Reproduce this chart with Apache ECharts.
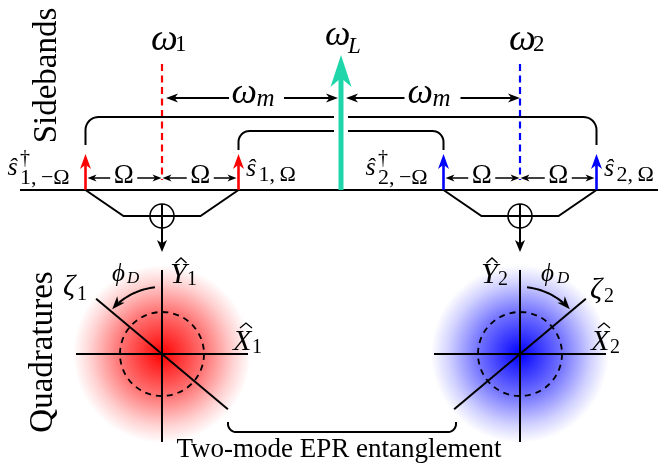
<!DOCTYPE html>
<html><head><meta charset="utf-8">
<script src="https://cdn.jsdelivr.net/npm/echarts@6/dist/echarts.min.js"></script>
<style>html,body{margin:0;padding:0;background:#fff}#c{width:658px;height:466px}</style>
</head><body><div id="c"></div>
<script>
// ---------------- data ----------------
const carrierFreq = 0;                 // ω_L
const modeFreqs = [-179, 179];         // ω1 = ωL − ωm , ω2 = ωL + ωm   (display units)
const sidebandShift = 76.5;            // Ω
const sidebandAmp = 36;                // height of the sideband arrows
const carrierAmp = 135;                // height of the pump (ω_L) arrow
const modeLevelTop = 126;              // dashed mode markers (top)
const modeLevelBottom = 10;            // dashed mode markers (bottom)
const quadLevel = -164;                // level of the quadrature phase-space pictures
const modeIndex = ['1', '2'];
const modeColors = ['#ff0000', '#0000ff'];
const carrierColor = '#1fd6ab';
const rotationSign = [1, -1];          // φ_D turns in opposite senses for mode 1 and 2
const cloudStopPos = [0, 0.15, 0.5, 0.8, 1];
const cloudAlpha = [1, 0.85, 0.52, 0.18, 0];
const sidebandSubs = [['1,\u2009\u2212\u03A9', '1,\u2009\u03A9'], ['2,\u2009\u2212\u03A9', '2,\u2009\u03A9']];
const titles = ['Sidebands', 'Quadratures'];
const bottomText = 'Two-mode EPR entanglement';

// ---------------- drawing ----------------
const FONT = '"Liberation Serif","DejaVu Serif",serif';
function rgba(hex, a) { const n = parseInt(hex.slice(1), 16); return 'rgba(' + (n >> 16 & 255) + ',' + (n >> 8 & 255) + ',' + (n & 255) + ',' + a + ')'; }

function renderItem(params, api) {
  const C = (f, a) => api.coord([f, a]);
  const g = [];
  const line = (x1, y1, x2, y2, lw, stroke, dash) => g.push({type: 'line', shape: {x1, y1, x2, y2}, style: {stroke: stroke || '#000', lineWidth: lw || 2, lineDash: dash || null, fill: null}});
  const poly = (points, lw, stroke) => g.push({type: 'polyline', shape: {points}, style: {stroke: stroke || '#000', lineWidth: lw || 2, fill: null}});
  const head = (tx, ty, dx, dy, L, W, fill) => {
    const n = Math.hypot(dx, dy); dx /= n; dy /= n;
    const bx = tx - dx * L, by = ty - dy * L, px = -dy, py = dx;
    const nx = tx - dx * L * 0.72, ny = ty - dy * L * 0.72;
    g.push({type: 'polygon', shape: {points: [[tx, ty], [bx + px * W, by + py * W], [nx, ny], [bx - px * W, by - py * W]]}, style: {fill: fill || '#000'}});
    return [nx, ny];
  };
  const arrow = (x1, y1, tx, ty, L, W, lw, color) => { const e = head(tx, ty, tx - x1, ty - y1, L, W, color); line(x1, y1, e[0], e[1], lw, color); };
  const text = (s, x, base, size, italic, align) => g.push({type: 'text', style: {text: s, x, y: base - 0.34 * size,
    font: (italic ? 'italic ' : '') + size + 'px ' + FONT, fill: '#000', align: align || 'left', verticalAlign: 'middle',
    textAlign: align || 'left', textVerticalAlign: 'middle'}});
  const hat = (cx, top, w, h) => poly([[cx - w / 2, top + h], [cx, top], [cx + w / 2, top + h]], 1.3);
  const rounded = (x1, x2, yEdge, yFlat, r, gapL, gapR) => {
    const s = Math.sign(yEdge - yFlat), N = 10;
    const left = [[x1, yEdge]], right = [];
    for (let k = 0; k <= N; k++) { const p = k / N * Math.PI / 2; left.push([x1 + r - r * Math.cos(p), yFlat + s * r - s * r * Math.sin(p)]); }
    for (let k = 0; k <= N; k++) { const p = k / N * Math.PI / 2; right.push([x2 - r + r * Math.sin(p), yFlat + s * r - s * r * Math.cos(p)]); }
    right.push([x2, yEdge]);
    if (gapL != null) { left.push([gapL, yFlat]); right.unshift([gapR, yFlat]); poly(left, 2); poly(right, 2); }
    else { poly(left.concat(right), 2); }
  };

  const base = C(0, 0)[1];
  const xL = C(carrierFreq, 0)[0];
  const xd = modeFreqs.map(f => C(f, 0)[0]);
  const xs = modeFreqs.map(f => [C(f - sidebandShift, 0)[0], C(f + sidebandShift, 0)[0]]);
  const qy = C(0, quadLevel)[1];
  const tipS = C(0, sidebandAmp)[1];
  const tipL = C(0, carrierAmp)[1];

  // ---- quadrature clouds ----
  modeFreqs.forEach((f, i) => {
    const stops = cloudStopPos.map((p, k) => ({offset: p, color: rgba(modeColors[i], cloudAlpha[k])}));
    g.push({type: 'circle', shape: {cx: xd[i], cy: qy, r: 89}, style: {fill: new echarts.graphic.RadialGradient(0.5, 0.5, 0.5, stops)}});
  });

  // ---- frequency axis ----
  line(20, base, 658, base, 2.2);

  // dashed mode markers
  modeFreqs.forEach((f, i) => line(xd[i], C(f, modeLevelTop)[1], xd[i], C(f, modeLevelBottom)[1], 2.2, modeColors[i], [7, 4.5]));

  // ω_m arrows
  const yM = 98;
  let gc = (xd[0] + xL) / 2 + 5;
  arrow(gc - 27.5, yM, xd[0] + 4, yM, 12, 4.5, 2); arrow(gc + 27.5, yM, xL - 3, yM, 12, 4.5, 2);
  text('\u03C9', gc - 25, 106, 36, true); text('m', gc, 108, 25, true);
  gc = (xL + xd[1]) / 2 + 2;
  arrow(gc - 28, yM, xL + 5, yM, 12, 4.5, 2); arrow(gc + 28, yM, xd[1], yM, 12, 4.5, 2);
  text('\u03C9', gc - 25, 106, 36, true); text('m', gc, 108, 25, true);

  // brackets linking sidebands
  rounded(xs[0][0], xs[1][1], 145, 117, 13, xL - 7, xL + 7);
  rounded(xs[0][1], xs[1][0], 150, 131, 11, xL - 7, xL + 7);

  // Ω arrows
  const yO = 178;
  modeFreqs.forEach((f, i) => {
    let a = xs[i][0], b = xd[i], m = (a + b) / 2;
    arrow(m - 13.5, yO, a + 2, yO, 9, 3.5, 1.5); arrow(m + 13.5, yO, b - 0.5, yO, 9, 3.5, 1.5);
    text('\u03A9', m, 185, 27, false, 'center');
    a = xd[i]; b = xs[i][1]; m = (a + b) / 2;
    arrow(m - 13.5, yO, a + 0.5, yO, 9, 3.5, 1.5); arrow(m + 13.5, yO, b - 2, yO, 9, 3.5, 1.5);
    text('\u03A9', m, 185, 27, false, 'center');
  });

  // sideband arrows + labels
  modeFreqs.forEach((f, i) => {
    xs[i].forEach((x, j) => arrow(x, base, x, tipS, 15, 5.5, 2.6, modeColors[i]));
    const xl = xs[i][0], xr = xs[i][1];
    text('\u015D', xl - 78, 177, 26, true); text('\u2020', xl - 65.5, 166, 20, false); text(sidebandSubs[i][0], xl - 65.5, 186, 22, false);
    text('\u015D', xr + 7.5, 178, 26, true); text(sidebandSubs[i][1], xr + 20, 183, 22, false);
  });

  // pump
  arrow(xL, base, xL, tipL, 32, 10.5, 5, carrierColor);

  // mode labels
  modeFreqs.forEach((f, i) => {
    const top = C(f, modeLevelTop)[1];
    text('\u03C9', xd[i] - 11, top - 11, 38, true); text(modeIndex[i], xd[i] + 13, top - 11, 23, false);
  });
  text('\u03C9', xL - 16, 48, 36, true); text('L', xL + 7, 55, 23, true);

  // ---- combination ⊕ ----
  const yC = 216;
  modeFreqs.forEach((f, i) => {
    const a = xs[i][0], b = xs[i][1];
    poly([[a, base], [a + 38, yC], [b - 38, yC], [b, base]], 2);
    g.push({type: 'circle', shape: {cx: xd[i], cy: yC, r: 12}, style: {fill: 'none', stroke: '#000', lineWidth: 1.6}});
    arrow(xd[i], yC - 12, xd[i], 252, 12, 5, 2);
  });

  // ---- quadrature pictures ----
  const ang = 40 * Math.PI / 180, co = Math.cos(ang), sn = Math.sin(ang);
  modeFreqs.forEach((f, i) => {
    const cx = xd[i], cy = qy, s = rotationSign[i];
    line(cx, cy - 84, cx, cy + 88, 2);
    line(cx - 86, cy, cx + 86, cy, 2);
    g.push({type: 'circle', shape: {cx, cy, r: 42}, style: {fill: 'none', stroke: '#000', lineWidth: 1.8, lineDash: [6, 5]}});
    line(cx - 86 * co, cy - s * 86 * sn, cx + 86 * co, cy + s * 86 * sn, 2);
    // φ_D arc
    const r = 67, t0 = 90 + 6 * s, t1 = 90 + 48 * s, L = 13;
    const tEnd = t1 - s * (L * 0.72 / r) * 180 / Math.PI;
    const pts = [];
    for (let k = 0; k <= 24; k++) { const t = (t0 + (tEnd - t0) * k / 24) * Math.PI / 180; pts.push([cx + r * Math.cos(t), cy - r * Math.sin(t)]); }
    poly(pts, 2);
    const tr = t1 * Math.PI / 180;
    head(cx + r * Math.cos(tr), cy - r * Math.sin(tr), s * -Math.sin(tr), s * -Math.cos(tr), L, 5);
    // labels
    const k = modeIndex[i];
    if (i === 0) {
      text('\u03B6', cx - 99, cy - 57, 30, true); text(k, cx - 85, cy - 52, 20, false);
      text('\u03D5', cx - 50, cy - 71, 25, true); text('D', cx - 35, cy - 70, 17, true);
      text('Y', cx + 8, cy - 69, 30, true); hat(cx + 19, cy - 96, 11, 5); text(k, cx + 25, cy - 67, 20, false);
      text('X', cx + 71, cy - 2, 30, true); hat(cx + 84, cy - 31, 12, 5); text(k, cx + 90, cy + 1, 20, false);
    } else {
      text('\u03B6', cx + 70, cy - 54, 30, true); text(k, cx + 84, cy - 50, 20, false);
      text('\u03D5', cx + 21, cy - 71, 25, true); text('D', cx + 37, cy - 70, 17, true);
      text('Y', cx - 39, cy - 69, 30, true); hat(cx - 28, cy - 96, 11, 5); text(k, cx - 22, cy - 67, 20, false);
      text('X', cx + 71, cy - 2, 30, true); hat(cx + 84, cy - 31, 12, 5); text(k, cx + 90, cy + 1, 20, false);
    }
  });

  // entanglement bracket
  rounded(xd[0] + 66, xd[1] - 64, 422, 432, 8);
  text(bottomText, (xd[0] + xd[1]) / 2 - 2, 459, 27, false, 'center');

  // side titles
  g.push({type: 'text', x: 47, y: 75.5, rotation: Math.PI / 2, style: {text: titles[0], x: 0, y: 0, font: '33px ' + FONT, fill: '#000', align: 'center', verticalAlign: 'middle', textAlign: 'center', textVerticalAlign: 'middle'}});
  g.push({type: 'text', x: 43, y: 352, rotation: Math.PI / 2, style: {text: titles[1], x: 0, y: 0, font: '33px ' + FONT, fill: '#000', align: 'center', verticalAlign: 'middle', textAlign: 'center', textVerticalAlign: 'middle'}});

  return {type: 'group', children: g};
}

const chart = echarts.init(document.getElementById('c'), null, {renderer: 'canvas'});
chart.setOption({
  animation: false,
  backgroundColor: '#fff',
  grid: {left: 0, right: 0, top: 0, bottom: 0},
  xAxis: {type: 'value', min: -341, max: 317, show: false},
  yAxis: {type: 'value', min: -276, max: 190, show: false},
  series: [{type: 'custom', coordinateSystem: 'cartesian2d', clip: false, silent: true, data: [[0, 0]], renderItem}]
});
</script></body></html>
